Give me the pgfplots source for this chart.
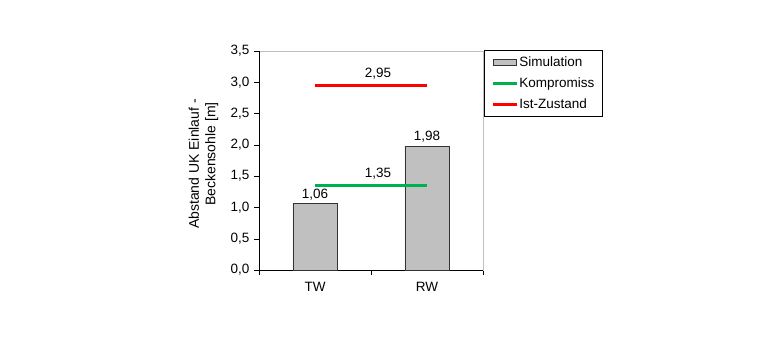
\documentclass[border=0pt]{standalone}
\usepackage{pgfplots}
\pgfplotsset{compat=1.18}
\usepackage{fontspec}
\setmainfont{Liberation Sans}
\definecolor{barfill}{RGB}{192,192,192}
\definecolor{kgreen}{RGB}{0,176,80}
\definecolor{ired}{RGB}{255,0,0}
\begin{document}
\begin{tikzpicture}
\useasboundingbox (0pt,0pt) rectangle (780pt,353pt);
\begin{axis}[
  at={(259pt,83pt)}, anchor=south west,
  scale only axis, width=224pt, height=219pt,
  xmin=-0.5, xmax=1.5, ymin=0, ymax=3.5,
  font=\fontsize{13.5}{16}\selectfont,
  xtick={0,1}, xticklabels={TW,RW},
  minor xtick={-0.5,0.5,1.5},
  major x tick style={draw=none},
  minor tick length=5pt,
  ytick={0,0.5,...,3.5},
  major tick length=5pt,
  tick align=outside,
  xtick pos=bottom, ytick pos=left,
  tick style={black, thin},
  axis line style={gray!50},
  /pgf/number format/.cd, use comma, fixed, fixed zerofill, precision=1, assume math mode=true,
  /pgfplots/.cd,
  yticklabel style={xshift=-1pt},
  xticklabel style={yshift=-4pt},
  ylabel={Abstand UK Einlauf -\\\hspace*{20pt}Beckensohle [m]},
  ylabel style={align=center, font=\fontsize{14}{16.5}\selectfont, at={(axis description cs:-0.248,0.484)}, anchor=center},
  legend style={at={(1.005,1.003)}, anchor=north west, draw=black, font=\fontsize{13.5}{16}\selectfont,
    row sep=6pt, inner xsep=7pt, inner ysep=4pt, cells={anchor=west},
    nodes={inner xsep=1pt}},
  clip=false,
]
\draw[black, thin] (rel axis cs:0,1) -- (rel axis cs:0,0) -- (rel axis cs:1,0);
\addplot[ybar, bar width=0.393, fill=barfill, draw=black!80,
  nodes near coords, nodes near coords style={/pgf/number format/.cd, fixed, fixed zerofill, precision=2, use comma, assume math mode=true, /tikz/.cd, font=\fontsize{13.5}{16}\selectfont},
  area legend,
  legend image code/.code={\draw[fill=barfill, draw=black!80] (0pt,-3pt) rectangle (23pt,3pt);}]
  coordinates {(0,1.06) (1,1.98)};
\addlegendentry{Simulation}
\addplot[kgreen, line width=3pt, no marks,
  legend image code/.code={\draw[kgreen, line width=3pt] (0pt,0pt) -- (24pt,0pt);}]
  coordinates {(0,1.35) (1,1.35)} node[pos=0.5, above=1pt, xshift=7pt, black, font=\fontsize{13.5}{16}\selectfont] {1,35};
\addlegendentry{Kompromiss}
\addplot[ired, line width=3pt, no marks,
  legend image code/.code={\draw[ired, line width=3pt] (0pt,0pt) -- (24pt,0pt);}]
  coordinates {(0,2.95) (1,2.95)} node[pos=0.5, above=1pt, xshift=7pt, black, font=\fontsize{13.5}{16}\selectfont] {2,95};
\addlegendentry{Ist-Zustand}
\end{axis}
\end{tikzpicture}
\end{document}
